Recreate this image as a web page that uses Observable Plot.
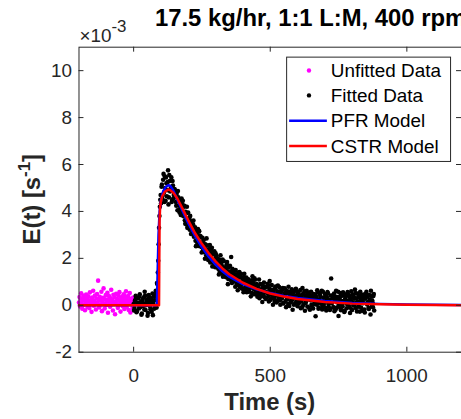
<!DOCTYPE html>
<html><head><meta charset="utf-8">
<script src="https://cdn.jsdelivr.net/npm/d3@7"></script>
<script src="https://cdn.jsdelivr.net/npm/@observablehq/plot@0.6"></script>
<style>html,body{margin:0;padding:0;background:#fff;overflow:hidden;} svg{display:block}</style>
</head><body><div id="chart"></div>
<script>
// ---- text ----
const titleText = "17.5 kg/hr, 1:1 L:M, 400 rpm";
const xLabel = "Time (s)";
const yLabelMain = "E(t) [s";
const yLabelSup = "-1";
const yLabelEnd = "]";
const seriesNames = ["Unfitted Data", "Fitted Data", "PFR Model", "CSTR Model"];
const seriesColors = ["#ff00ff", "#000000", "#0000ff", "#ff0000"];
const xTicks = [0, 500, 1000];
const yTicks = [-2, 0, 2, 4, 6, 8, 10];
const yExponent = "-3";
const xDomain = [-200, 1200];
const yDomain = [-2, 11];

// ---- measured data (E in units of 1e-3 s^-1) ----
const unfittedStart = -200, unfittedStep = 2;
const unfittedE = [
0.12,0.35,-0.05,0.28,0.51,0.08,-0.15,0.22,0.40,0.02,
0.31,-0.21,0.15,0.46,0.09,0.27,-0.08,0.38,0.18,-0.12,
0.55,0.05,0.24,-0.28,0.33,0.13,0.62,-0.02,0.19,0.41,
0.07,-0.18,0.29,0.48,0.11,1.05,0.25,-0.09,0.36,0.03,
0.21,0.58,-0.25,0.14,0.32,0.72,0.06,-0.14,0.26,0.44,
0.01,0.17,0.53,-0.32,0.23,0.39,0.10,-0.06,0.30,0.66,
0.04,0.20,-0.22,0.45,0.12,0.34,-0.38,0.16,0.49,0.08,
0.27,-0.11,0.42,0.02,0.56,0.18,-0.27,0.31,0.09,0.37,
-0.04,0.22,0.47,-0.16,0.13,0.35,0.60,-0.08,0.24,0.05,
0.40,-0.20,0.15,0.52,-0.31,0.28,0.07,0.19,-0.12,0.33];

const fittedStart = 0, fittedStep = 3;
const fittedE = [
0.05,-0.12,0.22,0.31,-0.25,0.10,0.02,0.38,-0.08,0.15,
-0.35,0.27,0.08,-0.18,0.42,0.00,0.19,-0.45,0.12,0.33,
-0.05,0.24,-0.28,0.50,0.07,-0.15,0.36,0.62,-0.10,
0.9,1.9,3.3,4.2,4.7,
5.05,4.55,5.35,4.8,5.5,4.45,5.2,4.9,5.75,4.6,5.3,4.95,5.45,4.5,5.1,4.7,4.95,
4.85,4.24,4.58,4.87,4.25,3.95,4.45,4.22,3.93,4.45,
3.98,4.24,3.47,3.92,4.20,3.39,3.49,3.72,3.81,3.04,
3.36,3.06,3.61,2.99,3.32,2.52,3.08,2.91,2.53,3.16,
2.70,2.90,2.25,2.88,2.62,2.26,1.98,2.57,2.85,2.22,
1.93,2.28,2.57,1.96,2.32,1.65,2.17,1.73,1.93,2.22,
2.12,1.74,1.88,1.31,1.42,2.13,1.82,1.49,1.22,1.89,
1.31,1.52,1.31,1.84,0.90,1.61,1.34,1.44,2.06,0.95,
1.46,1.18,1.48,0.79,1.23,1.29,0.64,0.85,1.42,0.94,
1.34,0.72,1.03,0.56,1.34,0.75,1.07,0.56,0.87,1.11,
0.60,0.93,0.38,1.07,1.24,0.70,0.47,1.09,0.62,0.91,
0.36,0.73,1.10,0.47,0.51,0.89,0.14,0.75,0.97,0.60,
0.27,0.79,0.52,0.84,0.16,1.03,0.60,0.28,0.66,0.02,
0.65,0.15,0.80,0.46,0.18,0.84,0.26,0.48,0.02,0.64,
0.29,0.74,0.10,0.47,0.55,-0.08,0.61,0.27,0.79,-0.03,
0.45,0.17,0.68,-0.19,0.55,0.33,0.09,0.70,0.29,-0.04,
0.56,0.22,0.43,-0.13,0.33,0.74,0.01,0.45,-0.23,0.13,
0.62,-0.05,0.27,0.54,-0.19,0.36,0.03,0.42,-0.14,0.19,
0.46,-0.47,0.29,0.64,0.11,-0.10,0.52,0.36,0.06,-0.18,
0.58,0.02,0.20,0.40,-0.22,0.28,0.52,-0.05,0.15,-0.16,
1.14,0.10,0.42,0.35,-0.25,0.21,0.62,-0.10,0.29,-0.46,
0.35,0.52,-0.21,0.18,-0.05,0.44,-0.29,0.27,0.11,-0.13,
0.56,0.03,0.37,-0.33,0.20,-0.18,0.45,-0.01,0.28,0.67,
-0.12,0.12,0.50,-0.06,0.33,-0.27,0.21,0.45,-0.23,0.09,
0.29,-0.31,0.36,0.57,0.03,0.15,-0.16,0.24,-0.39,0.40,
0.21,-0.08,0.48];

// second interleaved set of fitted samples (t = 1.5, 4.5, ...)
const fitted2Start = 1.5, fitted2Step = 3;
const fitted2E = [
-0.22,0.18,0.40,-0.30,0.06,0.29,-0.14,0.47,0.11,-0.40,
0.20,-0.03,0.34,0.58,-0.20,0.09,0.26,-0.33,0.44,0.01,
-0.17,0.30,0.14,-0.42,0.39,0.21,-0.06,0.52,0.95,
1.4,2.6,3.8,4.5,
4.35,5.15,4.7,5.6,4.4,5.0,5.45,4.65,5.25,4.3,5.55,4.85,5.05,4.4,5.3,4.55,4.8,4.9,
4.40,4.75,4.05,4.60,4.48,4.10,3.85,4.55,4.30,3.80,
4.20,3.62,3.98,3.55,3.30,3.95,3.70,3.22,3.50,3.58,
3.10,3.45,2.92,3.28,2.75,3.18,2.68,3.25,2.98,2.62,
2.95,2.48,2.55,2.32,2.78,2.45,2.60,2.12,2.38,2.55,
2.05,2.40,1.82,2.15,2.45,1.88,1.78,2.30,1.62,2.05,
1.62,2.00,1.55,1.95,1.80,1.38,1.70,1.95,1.60,1.30,
1.62,1.20,1.75,1.45,1.12,1.40,1.68,1.08,1.36,1.55,
1.02,1.35,1.25,1.50,0.92,1.05,1.38,1.18,0.78,1.22,
0.88,1.15,0.70,1.20,0.98,0.62,1.18,0.95,0.72,0.58,
1.02,0.75,0.85,0.52,0.96,0.88,1.15,0.50,0.78,0.46,
0.82,0.55,0.30,0.90,0.68,0.40,0.85,0.48,0.35,0.78,
0.58,0.32,0.92,0.40,0.70,0.22,0.48,0.86,0.38,0.55,
0.30,0.72,0.44,0.12,0.60,0.35,0.78,0.20,0.56,0.42,
0.66,0.08,0.40,0.72,0.18,0.50,0.30,0.05,0.58,0.36,
0.12,0.52,0.25,0.42,0.02,0.62,0.34,0.18,0.46,0.58,
0.08,0.38,0.65,0.16,-0.08,0.48,0.28,0.60,0.10,0.36,
0.24,0.50,-0.10,0.40,0.22,0.58,-0.02,0.30,0.48,0.05,
0.18,0.38,0.02,0.55,-0.15,0.26,0.44,0.10,0.62,-0.06,
0.32,0.14,0.48,-0.12,0.38,0.56,0.06,0.24,-0.20,0.42,
0.10,0.30,-0.08,0.50,0.20,-0.18,0.36,0.12,0.58,0.00,
0.26,-0.14,0.40,0.08,0.55,0.15,-0.24,0.32,0.46,0.04,
0.18,0.44,-0.08,0.30,0.60,-0.20,0.12,0.38,0.02,0.52,
0.30,-0.26,0.16,0.42,0.06,0.58,-0.10,0.34,0.14,0.46,
-0.18,0.28,0.50,0.08,0.36,-0.12,0.44,0.20,0.62,-0.04,
0.12,0.40,-0.22];

// ---- model curves ----
const pfrT = [-200,85,88,91,95,100,108,118,128,135,145,160,180,200,225,250,275,300,325,350,400,450,500,550,600,700,800,900,1000,1200];
const pfrE = [0,0,1.5,3.0,4.0,4.5,4.85,5.05,5.12,5.08,4.9,4.5,4.0,3.5,2.95,2.47,2.07,1.73,1.45,1.22,0.9,0.68,0.52,0.4,0.31,0.18,0.1,0.06,0.03,0.01];
const cstrT = [-200,93,94,95,97,100,105,115,125,132,145,160,180,200,225,250,275,300,325,350,400,450,500,550,600,700,800,900,1000,1200];
const cstrE = [0,0,2.0,3.6,4.2,4.45,4.65,4.85,4.92,4.92,4.8,4.55,4.1,3.62,3.07,2.62,2.22,1.87,1.57,1.32,0.96,0.7,0.5,0.37,0.27,0.14,0.07,0.04,0.02,0.0];

const unfitted = unfittedE.map((e, i) => ({t: unfittedStart + i * unfittedStep, e}));
const fitted = fittedE.map((e, i) => ({t: fittedStart + i * fittedStep, e}))
  .concat(fitted2E.map((e, i) => ({t: fitted2Start + i * fitted2Step, e})));
const pfr = pfrT.map((t, i) => ({t, e: pfrE[i]}));
const cstr = cstrT.map((t, i) => ({t, e: cstrE[i]}));

// ---- layout ----
const W = 464, H = 419, mL = 79, mT = 47, mB = 65, mR = 0;
const frameW = W - mL - mR, frameH = H - mT - mB;
const axisColor = "#262626";
const font = "'Liberation Sans', Arial, Helvetica, sans-serif";

const chart = Plot.plot({
  width: W, height: H,
  marginLeft: mL, marginTop: mT, marginBottom: mB, marginRight: mR,
  style: {fontFamily: font, background: "#fff", color: axisColor},
  x: {domain: xDomain},
  y: {domain: yDomain},
  marks: [
    Plot.dot(unfitted, {x: "t", y: "e", r: 2.3, fill: seriesColors[0], stroke: "none"}),
    Plot.dot(fitted, {x: "t", y: "e", r: 2.3, fill: seriesColors[1], stroke: "none"}),
    Plot.line(pfr, {x: "t", y: "e", stroke: seriesColors[2], strokeWidth: 2.5}),
    Plot.line(cstr, {x: "t", y: "e", stroke: seriesColors[3], strokeWidth: 2.5}),
    Plot.frame({stroke: axisColor, strokeWidth: 1}),
    Plot.tickX(xTicks, {x: d => d, stroke: axisColor, insetTop: frameH - 5}),
    Plot.tickX(xTicks, {x: d => d, stroke: axisColor, insetBottom: frameH - 5}),
    Plot.tickY(yTicks, {y: d => d, stroke: axisColor, insetRight: frameW - 5}),
    Plot.tickY(yTicks, {y: d => d, stroke: axisColor, insetLeft: frameW - 5}),
    Plot.axisX({ticks: xTicks, tickSize: 0, tickPadding: 16, fontSize: 19, fill: axisColor, label: null, tickFormat: d => String(d)}),
    Plot.axisY({ticks: yTicks, tickSize: 0, tickPadding: 7, fontSize: 19, fill: axisColor, label: null, tickFormat: d => String(d)})
  ]
});
document.getElementById("chart").appendChild(chart);

// ---- annotations: title, axis labels, exponent, legend ----
const svg = d3.select(chart);
svg.append("text").attr("x", 156).attr("y", 26).attr("text-anchor", "start")
  .attr("font-family", font).attr("font-size", 24).attr("font-weight", "bold").attr("fill", "#000")
  .text(titleText);

const ex = svg.append("text").attr("x", 80).attr("y", 42).attr("text-anchor", "start")
  .attr("font-family", font).attr("font-size", 19).attr("fill", axisColor);
ex.append("tspan").text("\u00d710");
ex.append("tspan").attr("dy", -10).attr("font-size", 17).text(yExponent);

svg.append("text").attr("x", mL + frameW / 2).attr("y", 413)
  .attr("text-anchor", "middle")
  .attr("font-family", font).attr("font-size", 24).attr("font-weight", "bold").attr("fill", axisColor)
  .text(xLabel);

const yl = svg.append("text")
  .attr("transform", `translate(40,${mT + frameH / 2}) rotate(-90)`)
  .attr("text-anchor", "middle")
  .attr("font-family", font).attr("font-size", 24).attr("font-weight", "bold").attr("fill", axisColor);
yl.append("tspan").text(yLabelMain);
yl.append("tspan").attr("dy", -10).attr("font-size", 17).text(yLabelSup);
yl.append("tspan").attr("dy", 10).text(yLabelEnd);

const lg = svg.append("g").attr("font-family", font).attr("text-anchor", "start");
lg.append("rect").attr("x", 288.5).attr("y", 57.5).attr("width", 165).attr("height", 105)
  .attr("fill", "#fff").attr("stroke", axisColor).attr("stroke-width", 1);
const rowY = [71, 96, 121.5, 147];
seriesNames.forEach((name, i) => {
  if (i < 2) {
    lg.append("circle").attr("cx", 311).attr("cy", rowY[i]).attr("r", 2.2).attr("fill", seriesColors[i]);
  } else {
    lg.append("line").attr("x1", 291).attr("x2", 329).attr("y1", rowY[i]).attr("y2", rowY[i])
      .attr("stroke", seriesColors[i]).attr("stroke-width", 2.5);
  }
  lg.append("text").attr("x", 333).attr("y", rowY[i]).attr("dy", "0.35em")
    .attr("font-size", 19).attr("fill", "#000").text(name);
});
</script>
</body></html>
